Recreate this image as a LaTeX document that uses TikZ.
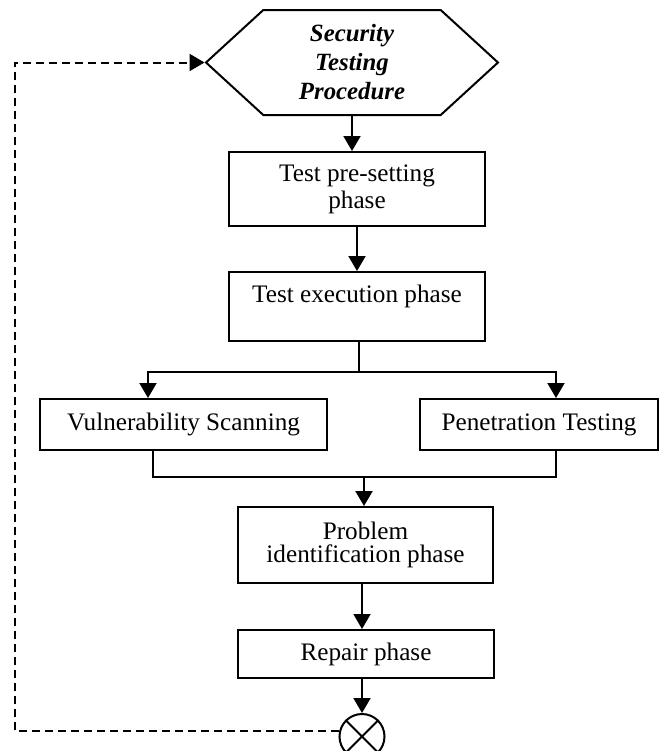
\documentclass[tikz,border=0pt]{standalone}
\usepackage{fontspec}
\setmainfont{Liberation Serif}
\usetikzlibrary{shapes.symbols,arrows.meta,calc}

\tikzset{
	phase/.style={draw,line width=1pt,align=center,inner sep=2pt,font=\fontsize{12.6}{13.5}\selectfont},
	flow/.style={line width=1pt,-{Triangle[length=7.5pt,width=8.5pt]}},
	link/.style={line width=1pt},
}

\begin{document}
\begin{tikzpicture}[x=0.5pt,y=-0.5pt]
		\useasboundingbox (0,0) rectangle (666,751);
		\clip (0,0) rectangle (666,751);
		\node[draw,line width=1pt,signal,signal to=west and east,signal pointer angle=85,minimum width=146pt,minimum height=52.5pt,align=center,font=\fontsize{12.4}{14.5}\selectfont\bfseries\itshape] (proc) at (352,62.5) {Security\\Testing\\Procedure};
		\node[phase,minimum width=128pt,minimum height=37pt] (pre) at (357,189) {Test pre-setting\\phase};
		\node[phase,minimum width=128pt,minimum height=34.5pt,text depth=12.5pt] (exec) at (357,306.5) {Test execution phase};
		\node[phase,minimum width=143.5pt,minimum height=25.5pt] (vs) at (183.5,424.5) {Vulnerability Scanning};
		\node[phase,minimum width=119pt,minimum height=25.5pt] (pt) at (539,424.5) {Penetration Testing};
		\node[phase,minimum width=127.5pt,minimum height=38pt,font=\fontsize{12.6}{11.8}\selectfont] (prob) at (365.5,545) {Problem\\identification phase};
		\node[phase,minimum width=128pt,minimum height=24pt] (rep) at (366,654) {Repair phase};
		\node[draw,line width=1pt,circle,minimum size=22.5pt,inner sep=0pt] (circ) at (362,736.5) {};
		\draw[link] (circ.45)--(circ.225) (circ.135)--(circ.315);
		\coordinate (fork) at (359,372);
		\coordinate (join) at (364,477);
		\coordinate (back) at (15,731);
		\draw[flow] (proc.south) -- (proc.south |- pre.north);
		\draw[flow] (pre.south) -- (pre.south |- exec.north);
		\draw[link] (exec.south -| fork) -- (fork);
		\draw[flow] (fork) -| ($(vs.north)+(-35.5,0)$);
		\draw[flow] (fork) -| ($(pt.north)+(17,0)$);
		\draw[link] ($(vs.south)+(-30.5,0)$) |- (join);
		\draw[link] ($(pt.south)+(17,0)$) |- (join);
		\draw[flow] (join) -- (join |- prob.north);
		\draw[flow] (prob.south -| circ.north) -- (rep.north -| circ.north);
		\draw[flow] (rep.south -| circ.north) -- (circ.north);
		\draw[flow,dash pattern=on 4pt off 2.5pt] (circ.167) -- (circ.167 -| back) |- (proc.west);
\end{tikzpicture}
\end{document}
